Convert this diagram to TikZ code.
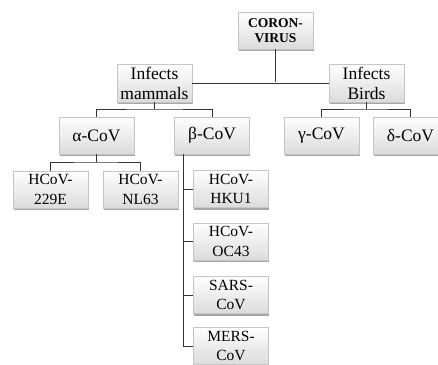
\documentclass[tikz,border=0pt]{standalone}
\usepackage{fontspec}
\setmainfont{Liberation Serif}
\usetikzlibrary{shadows}
\begin{document}
\begin{tikzpicture}[x=1pt,y=-1pt,
  box/.style={draw=gray!45, line width=0.5pt, top color=white, bottom color=gray!28,
    minimum width=75pt, minimum height=37pt, inner sep=0pt, align=center,
    drop shadow={shadow xshift=0.8pt, shadow yshift=-2pt, fill=black, opacity=0.35},
    font=\fontsize{15.5}{19.5}\selectfont},
  big/.style={font=\fontsize{17.5}{20}\selectfont},
  conn/.style={draw=black!80, line width=0.9pt}]
\useasboundingbox (0,0) rectangle (438,364);
\begin{scope}
\clip (0,0) rectangle (438,364);
\node[box, font=\bfseries\fontsize{13.5}{14.7}\selectfont] (root) at (275.5,30.5) {CORON-\\VIRUS};
\node[box, big, minimum height=38pt] (mam) at (154.5,83) {Infects\\mammals};
\node[box, big, minimum height=38pt] (bird) at (366.5,83) {Infects\\Birds};
\node[box, big] (alpha) at (96.5,135.5) {α-CoV};
\node[box, big] (beta) at (212,135.5) {β-CoV};
\node[box, big] (gamma) at (321.5,135.5) {γ-CoV};
\node[box, big] (delta) at (410.5,135.5) {δ-CoV};
\node[box] (e229) at (50.5,189.5) {HCoV-\\229E};
\node[box] (nl63) at (140.5,189.5) {HCoV-\\NL63};
\node[box] (hku1) at (231,189) {HCoV-\\HKU1};
\node[box] (oc43) at (231,241.5) {HCoV-\\OC43};
\node[box] (sars) at (231,295) {SARS-\\CoV};
\node[box] (mers) at (231,346) {MERS-\\CoV};
\coordinate (rj) at (275.5,82);
\coordinate (mj) at (154.5,109);
\coordinate (bj) at (366.5,109);
\coordinate (aj) at (96.5,162);
\coordinate (bt) at (183,154);
\draw[conn] (root.south) -- (rj);
\draw[conn] (mam.east) -- (bird.west);
\draw[conn] (mam.south) -- (mj);
\draw[conn] (alpha.north) |- (mj) -| (beta.north);
\draw[conn] (bird.south) -- (bj);
\draw[conn] (gamma.north) |- (bj) -| (delta.north);
\draw[conn] (alpha.south) -- (aj);
\draw[conn] (e229.north) |- (aj) -| (nl63.north);
\draw[conn] (bt) -- (bt |- mers.west);
\draw[conn] (bt |- hku1.west) -- (hku1.west);
\draw[conn] (bt |- oc43.west) -- (oc43.west);
\draw[conn] (bt |- sars.west) -- (sars.west);
\draw[conn] (bt |- mers.west) -- (mers.west);
\end{scope}
\end{tikzpicture}
\end{document}
